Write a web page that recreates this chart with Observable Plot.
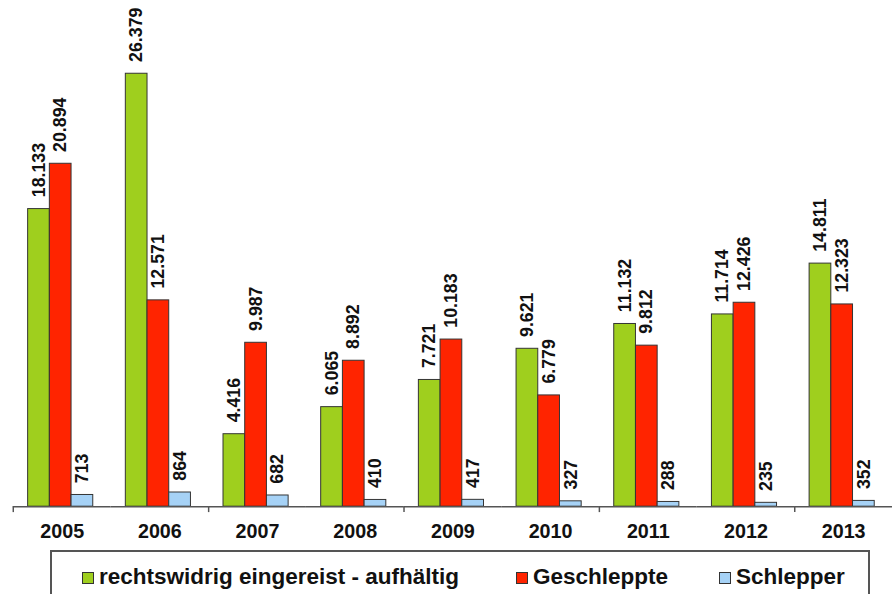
<!DOCTYPE html>
<html>
<head>
<meta charset="utf-8">
<script src="https://cdn.jsdelivr.net/npm/d3@7"></script>
<script src="https://cdn.jsdelivr.net/npm/@observablehq/plot@0.6"></script>
<style>
  html, body { margin: 0; padding: 0; background: #fff; overflow: hidden; }
  #wrap { width: 892px; height: 594px; overflow: hidden; position: relative;
          font-family: "Liberation Sans", Arial, sans-serif; }
  #wrap svg { position: absolute; left: 0; top: 0; }
  #legend { position: absolute; left: 50px; top: 550px; width: 820px; height: 70px;
            border: 2px solid #555; box-sizing: border-box; background: #fff; }
  .item { position: absolute; top: 12px; display: flex; align-items: center;
          font-size: 22.5px; font-weight: bold; color: #111; white-space: nowrap; line-height: 26px; }
  .sw { width: 10px; height: 10px; border: 1px solid #333; margin-right: 5px; margin-top: 2px; }
</style>
</head>
<body>
<div id="wrap"></div>
<script>
// Annual counts per category, 2005–2013
const years = ["2005", "2006", "2007", "2008", "2009", "2010", "2011", "2012", "2013"];
const series = ["rechtswidrig eingereist - aufhältig", "Geschleppte", "Schlepper"];
const illegal = [18133, 26379, 4416, 6065, 7721, 9621, 11132, 11714, 14811];
const geschleppte = [20894, 12571, 9987, 8892, 10183, 6779, 9812, 12426, 12323];
const schlepper = [713, 864, 682, 410, 417, 327, 288, 235, 352];
const colors = ["#9fcf1e", "#ff2400", "#a6d2f6"];
// axis tick marks sit between every second pair of years
const tickYears = ["2005", "2007", "2009", "2011", "2013"];

const valuesBySeries = [illegal, geschleppte, schlepper];
const rows = years.flatMap((year, i) =>
  series.map((s, j) => ({year, series: s, value: valuesBySeries[j][i]}))
);

const de = d3.formatLocale({decimal: ",", thousands: ".", grouping: [3], currency: ["", " €"]});
const fmt = de.format(",d");

const W = 904, ML = 12, MR = 0;
const step = (W - ML - MR) / years.length;

const chart = Plot.plot({
  width: W,
  height: 556,
  marginTop: 14,
  marginBottom: 43,
  marginLeft: ML,
  marginRight: MR,
  style: {fontFamily: "'Liberation Sans', Arial, sans-serif", background: "transparent", color: "#111", overflow: "visible"},
  fx: {domain: years, padding: 0, label: null},
  x: {domain: series, paddingInner: 0, paddingOuter: 0.75, align: 0.45, axis: null},
  y: {domain: [0, 30000], axis: null},
  color: {domain: series, range: colors},
  marks: [
    Plot.barY(rows, {fx: "year", x: "series", y: "value", fill: "series", stroke: "#333", strokeWidth: 1}),
    Plot.ruleY([0], {stroke: "#555", strokeWidth: 1.5}),
    Plot.text(rows, {
      fx: "year", x: "series", y: "value", text: d => fmt(d.value),
      rotate: -90, textAnchor: "start", dy: -12,
      fontSize: 18, fontWeight: "bold", fill: "#111"
    }),
    Plot.axisFx({anchor: "bottom", label: null, tickSize: 0, tickPadding: 18, fontSize: 20, fontWeight: "bold", fill: "#111"}),
    Plot.axisFx({anchor: "bottom", label: null, ticks: tickYears, tickSize: 6, tickFormat: () => "", dx: -step / 2, stroke: "#555", strokeWidth: 1.5})
  ]
});

const wrap = document.getElementById("wrap");
wrap.appendChild(chart);

// legend box below the plot
const legend = document.createElement("div");
legend.id = "legend";
const itemLeft = [30, 464, 667];
series.forEach((s, i) => {
  const item = document.createElement("div");
  item.className = "item";
  item.style.left = itemLeft[i] + "px";
  const sw = document.createElement("span");
  sw.className = "sw";
  sw.style.background = colors[i];
  const label = document.createElement("span");
  label.textContent = s;
  item.appendChild(sw);
  item.appendChild(label);
  legend.appendChild(item);
});
wrap.appendChild(legend);
</script>
</body>
</html>
